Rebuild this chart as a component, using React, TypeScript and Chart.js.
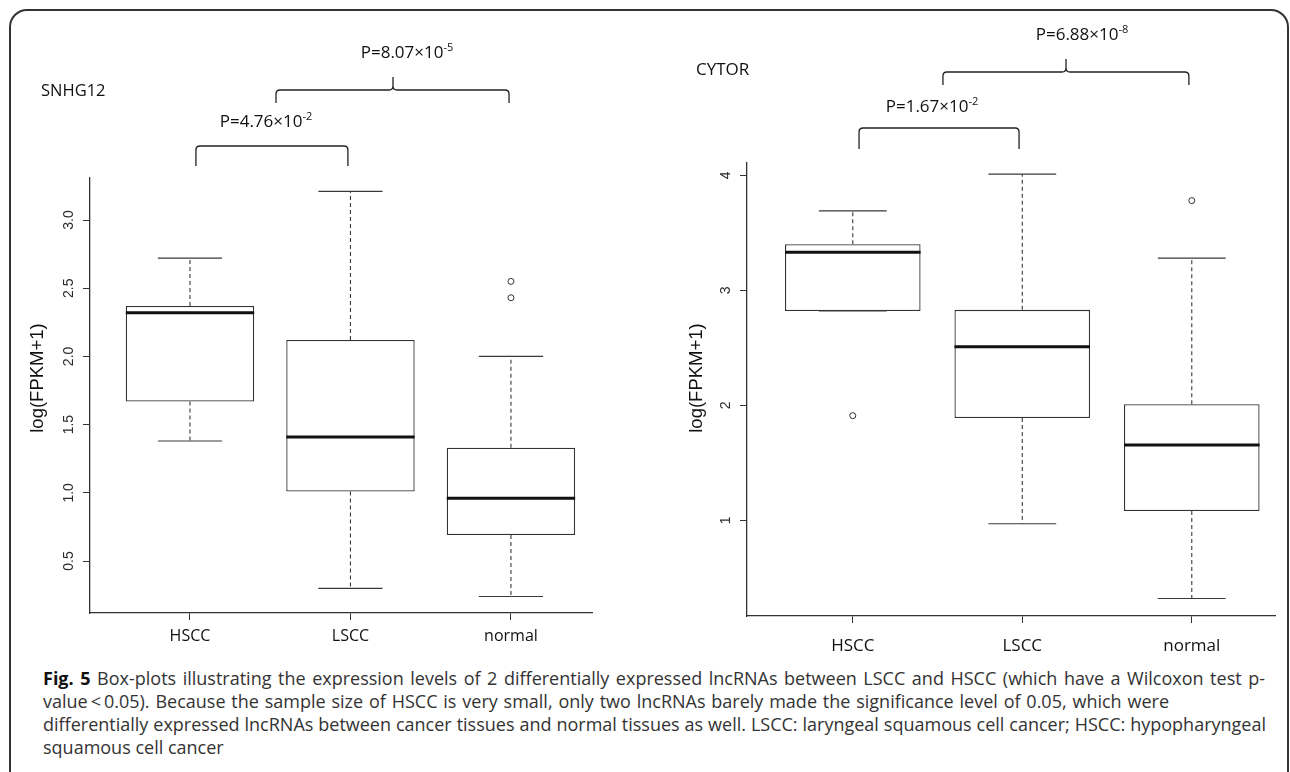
import React, { useEffect, useRef } from 'react';
import { Chart, registerables } from 'chart.js';

Chart.register(...registerables);

// ---------- data ----------
const categories = ['HSCC', 'LSCC', 'normal'];

// SNHG12 panel
const snhg12WhiskerLow = [1.38, 0.30, 0.24];
const snhg12Q1 = [1.67, 1.01, 0.69];
const snhg12Median = [2.32, 1.41, 0.96];
const snhg12Q3 = [2.37, 2.12, 1.33];
const snhg12WhiskerHigh = [2.72, 3.21, 2.0];
const snhg12Outliers = [[], [], [2.55, 2.43]];
const snhg12YTicks = [0.5, 1.0, 1.5, 2.0, 2.5, 3.0];
const snhg12YTickLabels = ['0.5', '1.0', '1.5', '2.0', '2.5', '3.0'];

// CYTOR panel
const cytorWhiskerLow = [2.82, 0.97, 0.32];
const cytorQ1 = [2.82, 1.89, 1.08];
const cytorMedian = [3.33, 2.51, 1.655];
const cytorQ3 = [3.40, 2.83, 2.01];
const cytorWhiskerHigh = [3.69, 4.01, 3.28];
const cytorOutliers = [[1.91], [], [3.78]];
const cytorYTicks = [1, 2, 3, 4];
const cytorYTickLabels = ['1', '2', '3', '4'];

const yTitle = 'log(FPKM+1)';

const captionLines = [
  'Box-plots illustrating the expression levels of 2 differentially expressed lncRNAs between LSCC and HSCC (which have a Wilcoxon test p-',
  'value\u2009<\u20090.05). Because the sample size of HSCC is very small, only two lncRNAs barely made the significance level of 0.05, which were',
  'differentially expressed lncRNAs between cancer tissues and normal tissues as well. LSCC: laryngeal squamous cell cancer; HSCC: hypopharyngeal',
  'squamous cell cancer',
];

// ---------- styles / layout ----------
const BOX_HALF = 0.4;
const CAP_HALF = 0.2;
const INK = '#333';
const TICK_FONT = '"Liberation Sans", Arial, sans-serif';
const LABEL_FONT = '"Open Sans", "Noto Sans", sans-serif';

type Bracket = { from: number; to: number; y: number; end: number; cusp?: number; top?: number };

type Panel = {
  canvasLeft: number;
  width: number;
  height: number;
  padding: { top: number; right: number; bottom: number; left: number };
  yAxisWidth: number;
  xAxisHeight: number;
  xMin: number;
  xMax: number;
  yMin: number;
  yMax: number;
  xLabelPad: number;
  xLabelSize: number;
  tickOffset: number;
  titleOffset: number;
  titleY: number;
  yTicks: number[];
  yTickLabels: string[];
  lo: number[];
  q1: number[];
  med: number[];
  q3: number[];
  hi: number[];
  out: number[][];
  brackets: Bracket[];
};

const leftPanel: Panel = {
  canvasLeft: 0,
  width: 640,
  height: 660,
  padding: { top: 178, right: 48, bottom: 7, left: 0 },
  yAxisWidth: 90,
  xAxisHeight: 40,
  xMin: 0.377,
  xMax: 3.505,
  yMin: 0.119,
  yMax: 3.308,
  xLabelPad: 7,
  xLabelSize: 16,
  tickOffset: 21,
  titleOffset: 52,
  titleY: 378,
  yTicks: snhg12YTicks,
  yTickLabels: snhg12YTickLabels,
  lo: snhg12WhiskerLow,
  q1: snhg12Q1,
  med: snhg12Median,
  q3: snhg12Q3,
  hi: snhg12WhiskerHigh,
  out: snhg12Outliers,
  brackets: [
    { from: 1.037, to: 1.984, y: 146, end: 166 },
    { from: 1.536, to: 2.988, y: 90, end: 103, cusp: 2.265, top: 77 },
  ],
};

const rightPanel: Panel = {
  canvasLeft: 640,
  width: 650,
  height: 660,
  padding: { top: 163, right: 15, bottom: 4, left: 0 },
  yAxisWidth: 107,
  xAxisHeight: 40,
  xMin: 0.376,
  xMax: 3.491,
  yMin: 0.168,
  yMax: 4.107,
  xLabelPad: 13,
  xLabelSize: 17,
  tickOffset: 21,
  titleOffset: 50,
  titleY: 378,
  yTicks: cytorYTicks,
  yTickLabels: cytorYTickLabels,
  lo: cytorWhiskerLow,
  q1: cytorQ1,
  med: cytorMedian,
  q3: cytorQ3,
  hi: cytorWhiskerHigh,
  out: cytorOutliers,
  brackets: [
    { from: 1.037, to: 1.981, y: 128, end: 149 },
    { from: 1.532, to: 2.983, y: 72, end: 85, cusp: 2.258, top: 59 },
  ],
};

function drawBracket(ctx: CanvasRenderingContext2D, x0: number, x1: number, b: Bracket, cx: number | null) {
  const r = 4;
  ctx.beginPath();
  ctx.moveTo(x0, b.end);
  ctx.lineTo(x0, b.y + r);
  ctx.quadraticCurveTo(x0, b.y, x0 + r, b.y);
  if (cx !== null && b.top !== undefined) {
    ctx.lineTo(cx - r, b.y);
    ctx.quadraticCurveTo(cx, b.y, cx, b.y - r);
    ctx.lineTo(cx, b.top);
    ctx.moveTo(cx, b.y - r);
    ctx.quadraticCurveTo(cx, b.y, cx + r, b.y);
  }
  ctx.lineTo(x1 - r, b.y);
  ctx.quadraticCurveTo(x1, b.y, x1, b.y + r);
  ctx.lineTo(x1, b.end);
  ctx.stroke();
}

function makeOverlay(p: Panel) {
  return {
    id: 'overlay',
    afterDraw(chart: any) {
      const ctx: CanvasRenderingContext2D = chart.ctx;
      const ys = chart.scales.y;
      const xs = chart.scales.x;
      ctx.save();
      // rotated y tick labels (R style)
      ctx.fillStyle = '#2a2a2a';
      ctx.font = `14px ${TICK_FONT}`;
      ctx.textAlign = 'center';
      ctx.textBaseline = 'middle';
      ys.ticks.forEach((t: any, i: number) => {
        const py = ys.getPixelForValue(t.value);
        ctx.save();
        ctx.translate(ys.right - p.tickOffset, py);
        ctx.rotate(-Math.PI / 2);
        ctx.fillText(p.yTickLabels[i], 0, 0);
        ctx.restore();
      });
      // y title
      ctx.fillStyle = '#111';
      ctx.font = `18.5px ${TICK_FONT}`;
      ctx.save();
      ctx.translate(ys.right - p.titleOffset, p.titleY);
      ctx.rotate(-Math.PI / 2);
      ctx.fillText(yTitle, 0, 0);
      ctx.restore();
      // significance brackets
      ctx.strokeStyle = '#222';
      ctx.lineWidth = 1.3;
      p.brackets.forEach((b) => {
        drawBracket(
          ctx,
          xs.getPixelForValue(b.from),
          xs.getPixelForValue(b.to),
          b,
          b.cusp !== undefined ? xs.getPixelForValue(b.cusp) : null
        );
      });
      ctx.restore();
    },
  };
}

function buildConfig(p: Panel): any {
  const boxData = categories.map((_, i) => ({ x: i + 1, y: [p.q1[i], p.q3[i]] }));
  const medData: any[] = [];
  const whiskerData: any[] = [];
  const capData: any[] = [];
  const outData: any[] = [];
  categories.forEach((_, i) => {
    const c = i + 1;
    medData.push({ x: c - BOX_HALF, y: p.med[i] }, { x: c + BOX_HALF, y: p.med[i] }, { x: c, y: null });
    whiskerData.push(
      { x: c, y: p.q3[i] }, { x: c, y: p.hi[i] }, { x: c, y: null },
      { x: c, y: p.q1[i] }, { x: c, y: p.lo[i] }, { x: c, y: null }
    );
    capData.push(
      { x: c - CAP_HALF, y: p.hi[i] }, { x: c + CAP_HALF, y: p.hi[i] }, { x: c, y: null },
      { x: c - CAP_HALF, y: p.lo[i] }, { x: c + CAP_HALF, y: p.lo[i] }, { x: c, y: null }
    );
    p.out[i].forEach((v) => outData.push({ x: c, y: v }));
  });

  const lineBase = { type: 'line', pointRadius: 0, fill: false, tension: 0, spanGaps: false };

  return {
    type: 'bar',
    data: {
      datasets: [
        {
          type: 'bar',
          data: boxData,
          backgroundColor: '#ffffff',
          borderColor: INK,
          borderWidth: 1.3,
          borderSkipped: false,
          barPercentage: BOX_HALF * 2,
          categoryPercentage: 1,
          order: 4,
        },
        { ...lineBase, data: whiskerData, borderColor: '#3a3a3a', borderWidth: 1.1, borderDash: [4, 3], order: 3 },
        { ...lineBase, data: capData, borderColor: '#3a3a3a', borderWidth: 1.2, order: 2 },
        { ...lineBase, data: medData, borderColor: '#111', borderWidth: 3, order: 1 },
        {
          type: 'scatter',
          data: outData,
          showLine: false,
          pointRadius: 3,
          pointBorderWidth: 1,
          pointBackgroundColor: 'rgba(0,0,0,0)',
          pointBorderColor: INK,
          order: 0,
        },
      ],
    },
    options: {
      responsive: false,
      animation: false,
      devicePixelRatio: 1,
      events: [],
      layout: { padding: p.padding },
      plugins: { legend: { display: false }, tooltip: { enabled: false }, title: { display: false } },
      scales: {
        x: {
          type: 'linear',
          min: p.xMin,
          max: p.xMax,
          offset: false,
          afterBuildTicks: (s: any) => {
            s.ticks = categories.map((_, i) => ({ value: i + 1 }));
          },
          afterFit: (s: any) => {
            s.height = p.xAxisHeight;
          },
          grid: {
            display: true,
            offset: false,
            drawOnChartArea: false,
            drawTicks: true,
            tickLength: 7,
            color: INK,
            lineWidth: 1,
          },
          border: { display: true, color: INK, width: 1.3 },
          ticks: {
            padding: p.xLabelPad,
            color: '#111',
            font: { family: LABEL_FONT, size: p.xLabelSize },
            maxRotation: 0,
            autoSkip: false,
            callback: (v: any) => categories[Math.round(Number(v)) - 1] ?? '',
          },
        },
        y: {
          type: 'linear',
          min: p.yMin,
          max: p.yMax,
          afterBuildTicks: (s: any) => {
            s.ticks = p.yTicks.map((v) => ({ value: v }));
          },
          afterFit: (s: any) => {
            s.width = p.yAxisWidth;
          },
          grid: {
            display: true,
            offset: false,
            drawOnChartArea: false,
            drawTicks: true,
            tickLength: 7,
            color: INK,
            lineWidth: 1,
          },
          border: { display: true, color: INK, width: 1.3 },
          ticks: { display: false },
        },
      },
    },
    plugins: [makeOverlay(p)],
  };
}

function BoxPanel({ panel }: { panel: Panel }) {
  const ref = useRef<HTMLCanvasElement>(null);
  useEffect(() => {
    if (!ref.current) return;
    const chart = new Chart(ref.current, buildConfig(panel));
    return () => chart.destroy();
  }, [panel]);
  return (
    <canvas
      ref={ref}
      width={panel.width}
      height={panel.height}
      style={{ position: 'absolute', left: panel.canvasLeft, top: 0, width: panel.width, height: panel.height }}
    />
  );
}

function PText({ x, y, main, exp }: { x: number; y: number; main: string; exp: string }) {
  return (
    <div
      style={{
        position: 'absolute',
        left: x,
        top: y,
        transform: 'translate(-50%, -50%)',
        fontFamily: LABEL_FONT,
        fontSize: 17,
        color: '#111',
        whiteSpace: 'nowrap',
        lineHeight: '20px',
      }}
    >
      {main}
      <span style={{ fontSize: 11, position: 'relative', top: -7 }}>{exp}</span>
    </div>
  );
}

export default function App() {
  const captionTops = [678, 701, 724, 747];
  // right end of each justified caption line (last line left natural)
  const captionEnds = [1265, 1169, 1266, 0];
  const captionLeft = 43;
  return (
    <div
      style={{
        position: 'absolute',
        left: 0,
        top: 0,
        width: 1290,
        height: 772,
        overflow: 'hidden',
        background: '#fff',
      }}
    >
      <div
        style={{
          position: 'absolute',
          left: 9,
          top: 9,
          width: 1280,
          height: 820,
          border: '2px solid #333',
          borderRadius: 18,
          boxSizing: 'border-box',
        }}
      />
      <BoxPanel panel={leftPanel} />
      <BoxPanel panel={rightPanel} />

      <div style={{ position: 'absolute', left: 41, top: 90, transform: 'translateY(-50%)', fontFamily: LABEL_FONT, fontSize: 16.5, color: '#111', lineHeight: '20px' }}>
        SNHG12
      </div>
      <div style={{ position: 'absolute', left: 696, top: 69, transform: 'translateY(-50%)', fontFamily: LABEL_FONT, fontSize: 17, color: '#111', lineHeight: '20px' }}>
        CYTOR
      </div>

      <PText x={407} y={53} main={'P=8.07\u00d710'} exp={'-5'} />
      <PText x={266} y={122} main={'P=4.76\u00d710'} exp={'-2'} />
      <PText x={1082} y={35} main={'P=6.88\u00d710'} exp={'-8'} />
      <PText x={932} y={107} main={'P=1.67\u00d710'} exp={'-2'} />

      {captionLines.map((line, i) => {
        const justify = captionEnds[i] > 0;
        return (
          <div
            key={i}
            style={{
              position: 'absolute',
              left: captionLeft,
              top: captionTops[i] - 11,
              width: justify ? captionEnds[i] - captionLeft : undefined,
              height: 22,
              lineHeight: '22px',
              fontFamily: LABEL_FONT,
              fontSize: 18,
              color: '#333',
              whiteSpace: justify ? 'normal' : 'nowrap',
              textAlign: justify ? 'justify' : 'left',
              textAlignLast: justify ? 'justify' : 'auto',
              overflow: 'visible',
            } as any}
          >
            {i === 0 ? <b style={{ color: '#111' }}>Fig. 5 </b> : null}
            {line}
          </div>
        );
      })}
    </div>
  );
}
